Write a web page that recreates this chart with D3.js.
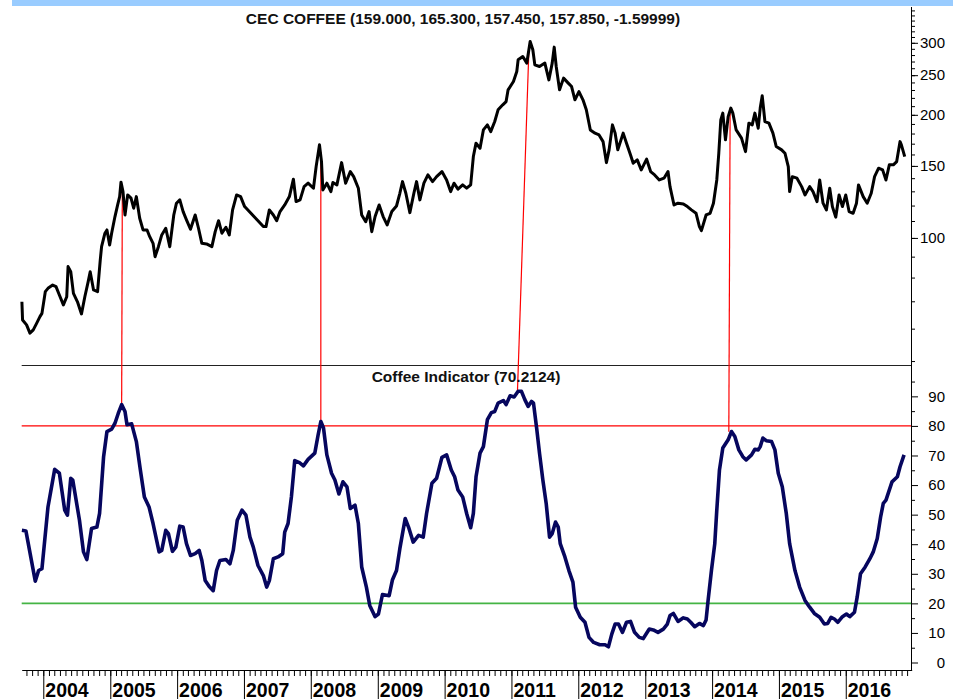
<!DOCTYPE html>
<html>
<head>
<meta charset="utf-8">
<script src="https://cdn.jsdelivr.net/npm/d3@7"></script>
<style>
  body { margin: 0; background: #fff; }
  svg { display: block; font-family: "Liberation Sans", Arial, sans-serif; }
</style>
</head>
<body>
<svg width="953" height="699"></svg>
<script>
// price series (decimal year, price)
var priceYears = [2003.68,2003.69,2003.75,2003.80,2003.85,2003.90,2003.95,2003.98,2004.03,2004.07,2004.14,2004.19,2004.24,2004.30,2004.35,2004.37,2004.41,2004.45,2004.51,2004.57,2004.62,2004.67,2004.70,2004.75,2004.81,2004.85,2004.87,2004.92,2004.95,2004.99,
  2005.02,2005.07,2005.11,2005.14,2005.16,2005.19,2005.22,2005.26,2005.31,2005.35,2005.39,2005.44,2005.49,2005.55,2005.59,2005.64,2005.67,2005.72,2005.77,2005.83,2005.89,2005.95,2005.99,
  2006.04,2006.09,2006.14,2006.20,2006.27,2006.32,2006.37,2006.44,2006.52,2006.57,2006.62,2006.67,2006.73,2006.78,2006.83,2006.89,2006.95,
  2007.01,2007.08,2007.15,2007.21,2007.29,2007.33,2007.38,2007.44,2007.49,2007.54,2007.61,2007.68,2007.74,2007.78,2007.84,2007.90,2007.96,
  2008.04,2008.08,2008.13,2008.16,2008.18,2008.24,2008.30,2008.33,2008.39,2008.46,2008.52,2008.59,2008.64,2008.71,2008.76,2008.82,2008.87,2008.91,2008.96,
  2009.02,2009.08,2009.14,2009.21,2009.28,2009.33,2009.37,2009.42,2009.48,2009.54,2009.58,2009.63,2009.69,2009.75,2009.82,2009.88,2009.96,
  2010.03,2010.09,2010.14,2010.20,2010.27,2010.33,2010.39,2010.43,2010.47,2010.53,2010.58,2010.64,2010.69,2010.75,2010.80,2010.87,2010.92,2010.95,
  2011.03,2011.08,2011.10,2011.17,2011.23,2011.28,2011.32,2011.35,2011.42,2011.50,2011.56,2011.61,2011.64,2011.67,2011.72,2011.78,2011.85,2011.90,2011.95,
  2012.01,2012.07,2012.12,2012.18,2012.25,2012.31,2012.37,2012.42,2012.46,2012.51,2012.55,2012.59,2012.67,2012.72,2012.78,2012.82,2012.88,2012.94,
  2013.02,2013.08,2013.14,2013.21,2013.28,2013.34,2013.37,2013.43,2013.49,2013.57,2013.63,2013.69,2013.76,2013.81,2013.84,2013.91,2013.97,
  2014.02,2014.07,2014.10,2014.13,2014.16,2014.20,2014.24,2014.28,2014.31,2014.36,2014.44,2014.50,2014.55,2014.60,2014.64,2014.69,2014.72,2014.75,2014.79,2014.85,2014.91,2014.96,
  2015.04,2015.09,2015.14,2015.16,2015.20,2015.27,2015.34,2015.39,2015.46,2015.51,2015.57,2015.61,2015.66,2015.71,2015.76,2015.80,2015.85,2015.90,2015.95,
  2016.00,2016.05,2016.11,2016.16,2016.19,2016.26,2016.32,2016.38,2016.43,2016.49,2016.55,2016.60,2016.65,2016.71,2016.76,2016.81,2016.83,2016.88];
var priceValues = [69.8,63.0,61.3,58.5,59.6,61.8,64.2,65.4,73.9,75.3,76.7,76.0,72.5,68.6,71.8,85.1,82.7,73.2,69.8,65.2,71.8,78.2,82.7,74.6,73.9,88.3,95.2,102.7,104.6,96.1,
  102.7,112.8,120.4,126.2,136.9,129.8,113.8,127.4,125.1,118.2,126.2,111.7,104.6,104.6,100.7,97.0,90.0,95.2,101.7,105.6,95.2,113.8,121.6,
  123.9,116.0,110.7,105.0,113.8,105.6,97.0,96.7,95.2,103.6,110.2,102.7,106.2,101.7,117.1,127.4,126.2,
  119.3,116.0,112.8,110.2,106.6,106.6,117.1,113.8,110.2,116.0,120.4,126.2,139.2,122.7,123.9,133.5,136.1,
  132.3,149.4,168.9,153.7,131.0,136.1,129.8,136.6,134.8,152.8,136.1,145.3,141.2,132.3,113.8,109.6,116.0,103.6,112.8,
  120.4,112.8,107.6,116.0,119.7,128.6,137.3,128.6,115.3,128.6,137.3,123.9,136.1,142.6,137.3,141.2,145.3,
  138.6,129.8,136.1,131.6,134.8,132.3,134.8,158.1,170.5,165.7,183.7,189.0,182.0,192.6,205.7,211.6,215.5,230.2,
  241.2,255.2,272.6,277.7,267.6,302.2,288.4,265.0,262.5,267.6,243.5,267.6,292.8,262.5,230.2,245.9,239.1,234.5,217.6,
  228.0,217.6,205.7,183.7,180.4,178.6,172.0,152.8,164.2,189.0,180.4,164.2,180.4,170.5,159.6,152.3,155.2,146.7,
  155.8,145.3,142.6,138.6,140.0,145.3,133.5,120.4,121.6,121.1,119.3,117.1,114.9,106.6,104.2,113.8,114.9,
  121.6,138.6,161.1,194.4,201.9,173.7,198.0,207.7,201.9,183.7,175.4,162.6,190.8,189.0,201.9,185.5,207.7,222.6,192.6,190.8,180.4,167.3,
  164.2,161.1,149.4,129.8,141.2,140.0,133.5,127.4,133.5,129.8,122.7,138.6,121.6,117.1,132.3,119.3,112.4,127.4,119.3,
  127.4,116.0,114.9,121.6,134.8,126.2,121.6,128.6,141.2,148.1,146.7,138.6,150.9,150.9,153.7,172.0,168.9,158.1];

// indicator series (decimal year, value)
var indYears = [2003.68,2003.74,2003.88,2003.93,2003.98,2004.07,2004.17,2004.24,2004.32,2004.36,2004.41,2004.44,2004.54,2004.60,2004.65,2004.72,2004.80,2004.84,2004.90,2004.95,
  2005.02,2005.07,2005.12,2005.17,2005.22,2005.25,2005.32,2005.39,2005.45,2005.51,2005.58,2005.64,2005.73,2005.77,2005.83,2005.87,2005.93,2005.98,
  2006.04,2006.09,2006.14,2006.20,2006.27,2006.33,2006.37,2006.42,2006.48,2006.54,2006.59,2006.64,2006.73,2006.79,2006.84,2006.90,2006.97,
  2007.03,2007.09,2007.14,2007.21,2007.29,2007.34,2007.38,2007.44,2007.51,2007.58,2007.61,2007.66,2007.71,2007.76,2007.83,2007.89,2007.96,
  2008.06,2008.11,2008.15,2008.19,2008.24,2008.31,2008.36,2008.42,2008.48,2008.54,2008.59,2008.66,2008.71,2008.76,2008.83,2008.88,2008.96,
  2009.01,2009.07,2009.17,2009.22,2009.28,2009.33,2009.41,2009.46,2009.53,2009.61,2009.68,2009.73,2009.81,2009.88,2009.96,
  2010.03,2010.10,2010.15,2010.20,2010.27,2010.33,2010.39,2010.43,2010.47,2010.53,2010.58,2010.64,2010.70,2010.75,2010.80,2010.88,2010.92,2010.98,
  2011.04,2011.10,2011.15,2011.20,2011.25,2011.30,2011.33,2011.38,2011.42,2011.47,2011.52,2011.57,2011.61,2011.66,2011.70,2011.73,2011.80,2011.86,2011.92,2011.96,
  2012.03,2012.10,2012.16,2012.23,2012.32,2012.40,2012.45,2012.50,2012.55,2012.60,2012.66,2012.72,2012.78,2012.84,2012.91,2012.97,
  2013.06,2013.12,2013.19,2013.27,2013.33,2013.37,2013.42,2013.49,2013.57,2013.63,2013.68,2013.74,2013.81,2013.87,2013.91,2013.94,2013.99,
  2014.04,2014.07,2014.11,2014.16,2014.24,2014.29,2014.34,2014.40,2014.46,2014.51,2014.59,2014.64,2014.69,2014.72,2014.76,2014.81,2014.89,2014.94,2014.99,
  2015.05,2015.11,2015.16,2015.24,2015.31,2015.39,2015.46,2015.53,2015.61,2015.68,2015.73,2015.78,2015.83,2015.88,2015.95,
  2016.01,2016.06,2016.13,2016.17,2016.22,2016.29,2016.36,2016.41,2016.47,2016.52,2016.56,2016.60,2016.69,2016.77,2016.81,2016.87];
var indValues = [44.7,44.5,27.5,31.1,31.7,52.6,65.3,64.0,51.5,49.8,62.3,61.7,48.1,37.4,34.8,45.3,45.8,50.4,69.6,78.1,
  78.9,80.9,84.3,87.2,84.9,80.4,80.7,74.7,65.1,56.0,52.6,47.0,37.4,37.9,44.7,43.6,37.6,39.0,
  46.1,45.8,40.2,36.2,36.8,37.9,34.5,27.7,25.7,24.3,31.1,34.5,34.8,33.4,37.9,48.1,51.5,
  49.8,42.4,39.0,32.8,29.4,25.5,27.7,35.1,35.7,36.8,44.1,47.0,56.0,68.3,67.6,66.5,68.7,
  70.8,77.0,81.5,79.3,70.2,64.0,61.7,57.0,61.1,59.4,52.1,53.2,47.0,32.3,25.5,19.3,15.5,
  16.4,23.0,22.6,28.0,31.1,38.5,48.7,45.8,40.7,43.0,42.4,50.4,60.6,62.3,69.4,
  70.2,65.1,62.8,58.3,56.0,50.4,45.6,50.4,62.8,70.8,73.0,82.1,84.5,84.9,87.7,88.6,87.2,90.2,
  89.8,91.7,91.7,88.9,86.6,88.3,87.7,78.7,70.8,61.7,53.8,42.4,43.6,47.5,45.8,40.2,35.7,31.1,27.2,18.7,
  15.3,13.6,8.5,6.8,6.0,6.0,5.3,9.6,13.0,13.0,10.2,13.6,13.9,10.2,8.5,8.1,
  11.3,11.0,10.2,11.3,13.0,15.9,16.6,13.9,15.1,14.7,13.6,12.1,13.2,12.5,14.4,21.0,31.1,
  40.2,51.5,65.1,72.5,75.3,78.1,76.4,71.9,69.6,68.5,70.2,72.1,71.9,73.0,75.9,75.0,74.7,71.9,64.0,
  59.4,50.4,40.2,31.1,25.5,21.0,18.7,16.6,15.3,13.0,13.2,15.3,14.7,13.6,15.5,
  16.4,15.5,17.0,22.1,30.0,32.3,35.1,37.4,41.9,49.2,53.8,54.9,61.1,62.8,66.2,70.2];

// red connector lines: price peak -> indicator peak
var signalPriceYears = [2005.18, 2008.15, 2011.26, 2014.27];
var signalPrices = [132.5, 162.3, 285.0, 208.0];
var signalIndYears = [2005.17, 2008.15, 2011.09, 2014.25];
var signalIndValues = [87.2, 81.4, 91.6, 78.0];

var priceTicks = [100, 150, 200, 250, 300];
var indTicks = [0, 10, 20, 30, 40, 50, 60, 70, 80, 90];
var overbought = 80, oversold = 20;
var priceTitle = 'CEC COFFEE (159.000, 165.300, 157.450, 157.850, -1.59999)';
var indTitle = 'Coffee Indicator (70.2124)';

function toDate(y) {
    var yr = Math.floor(y);
    var a = new Date(yr, 0, 1), b = new Date(yr + 1, 0, 1);
    return new Date(+a + (y - yr) * (b - a));
}

var svg = d3.select('svg');
var left = 21.7, right = 911;

svg.append('rect').attr('x', 12).attr('y', 0).attr('width', 941).attr('height', 6).attr('fill', '#99ccff');

var x = d3.scaleTime()
    .domain([toDate(2003.677), toDate(2016.984)])
    .range([left, 911.7]);

var yPrice = d3.scaleLog().domain([48.9, 367]).range([365, 7]);
var yInd = d3.scaleLinear().domain([-2.77, 100.6]).range([670.7, 365]);

var price = priceYears.map(function(d, i) { return {date: toDate(d), v: priceValues[i]}; });
var ind = indYears.map(function(d, i) { return {date: toDate(d), v: indValues[i]}; });

// reference levels
svg.append('line').attr('x1', left).attr('x2', right).attr('y1', yInd(overbought)).attr('y2', yInd(overbought))
    .attr('stroke', '#ff0000').attr('stroke-width', 1.2);
svg.append('line').attr('x1', left).attr('x2', right).attr('y1', yInd(oversold)).attr('y2', yInd(oversold))
    .attr('stroke', '#44b444').attr('stroke-width', 1.6);

// panel separator
svg.append('line').attr('x1', left).attr('x2', right).attr('y1', 365.5).attr('y2', 365.5)
    .attr('stroke', '#222').attr('stroke-width', 1);

// connectors
signalPriceYears.forEach(function(d, i) {
    svg.append('line')
        .attr('x1', x(toDate(d))).attr('y1', yPrice(signalPrices[i]))
        .attr('x2', x(toDate(signalIndYears[i]))).attr('y2', yInd(signalIndValues[i]))
        .attr('stroke', '#ff0000').attr('stroke-width', 1.2);
});

svg.append('path').datum(price)
    .attr('d', d3.line().x(function(d) { return x(d.date); }).y(function(d) { return yPrice(d.v); }))
    .attr('fill', 'none').attr('stroke', '#000').attr('stroke-width', 3).attr('stroke-linejoin', 'round');

svg.append('path').datum(ind)
    .attr('d', d3.line().x(function(d) { return x(d.date); }).y(function(d) { return yInd(d.v); }))
    .attr('fill', 'none').attr('stroke', '#06065e').attr('stroke-width', 3.6).attr('stroke-linejoin', 'round');

// titles
svg.append('text').attr('x', 463).attr('y', 24).attr('text-anchor', 'middle')
    .style('font-size', '15.5px').style('font-weight', 'bold').attr('fill', '#111').text(priceTitle);
svg.append('text').attr('x', 466).attr('y', 381.5).attr('text-anchor', 'middle')
    .style('font-size', '15.5px').style('font-weight', 'bold').attr('fill', '#111').text(indTitle);

// right axes
var priceMinor = d3.range(50, 370, 10);
svg.append('g').attr('transform', 'translate(' + right + ',0)')
    .call(d3.axisRight(yPrice).tickValues(priceMinor).tickSize(4).tickSizeOuter(0).tickFormat(''))
    .call(function(g) { g.select('.domain').remove(); });
var pAxis = svg.append('g').attr('transform', 'translate(' + right + ',0)')
    .call(d3.axisRight(yPrice).tickValues(priceTicks).tickSize(7).tickSizeOuter(0).tickFormat(d3.format('d')));
pAxis.select('.domain').remove();

svg.append('g').attr('transform', 'translate(' + right + ',0)')
    .call(d3.axisRight(yInd).tickValues(d3.range(5, 100, 10)).tickSize(4).tickSizeOuter(0).tickFormat(''))
    .call(function(g) { g.select('.domain').remove(); });
var iAxis = svg.append('g').attr('transform', 'translate(' + right + ',0)')
    .call(d3.axisRight(yInd).tickValues(indTicks).tickSize(7).tickSizeOuter(0));
iAxis.select('.domain').remove();

[pAxis, iAxis].forEach(function(g) {
    g.selectAll('text').attr('x', 34).attr('text-anchor', 'end')
        .style('font-size', '15px').style('font-family', '"Liberation Sans", Arial, sans-serif').attr('fill', '#000');
});

svg.append('line').attr('x1', right + 0.5).attr('x2', right + 0.5).attr('y1', 7).attr('y2', 671)
    .attr('stroke', '#000').attr('stroke-width', 1);

// time axis
var xg = svg.append('g').attr('transform', 'translate(0,670)')
    .call(d3.axisBottom(x).ticks(d3.timeMonth.every(1)).tickSize(6).tickSizeOuter(0).tickFormat(''));
xg.select('.domain').attr('stroke', '#000');

var yearLabels = d3.range(2004, 2017);
var yg = svg.append('g').attr('transform', 'translate(0,670)')
    .call(d3.axisBottom(x).tickValues(yearLabels.map(function(y) { return new Date(y, 0, 1); }))
        .tickSize(29).tickSizeOuter(0).tickFormat(d3.timeFormat('%Y')));
yg.select('.domain').remove();
yg.selectAll('text').attr('x', 1.5).attr('y', 26.5).attr('dy', 0).attr('text-anchor', 'start')
    .style('font-size', '19.5px').style('font-weight', 'bold')
    .style('font-family', '"Liberation Sans", Arial, sans-serif').attr('fill', '#000');
</script>
</body>
</html>
